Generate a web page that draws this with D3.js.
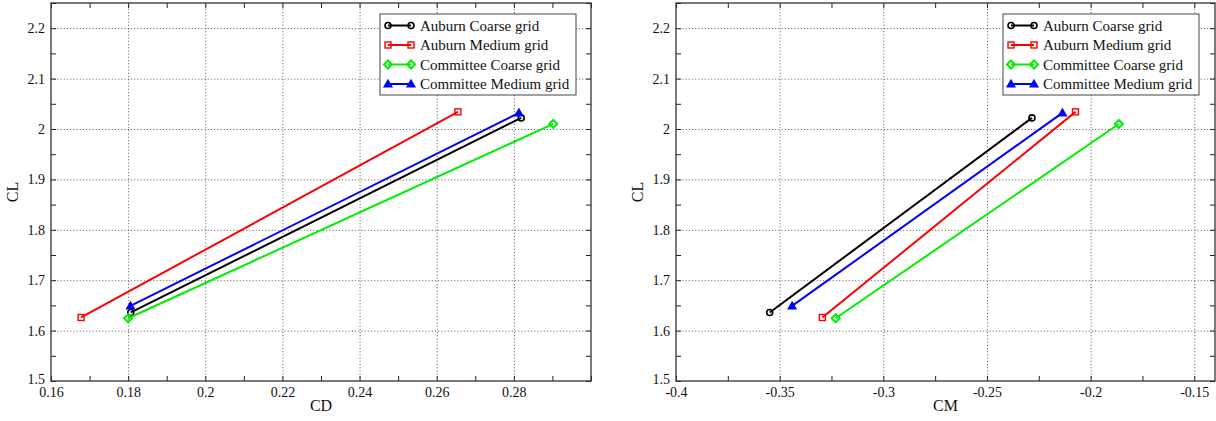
<!DOCTYPE html>
<html>
<head>
<meta charset="utf-8">
<script src="https://cdn.jsdelivr.net/npm/d3@7"></script>
<style>
  body { margin: 0; background: #fff; }
  svg, svg text { font-family: "Liberation Serif", "Times New Roman", Times, "DejaVu Serif", serif !important; }
</style>
</head>
<body>
<svg id="chart" width="1216" height="421"></svg>
<script>
// ---- data ----
const seriesNames = ["Auburn Coarse grid", "Auburn Medium grid", "Committee Coarse grid", "Committee Medium grid"];
const seriesColors = ["#000000", "#ff0000", "#00ee00", "#0000ff"];
const seriesMarkers = ["circle", "square", "diamond", "triangle"];
// CL at the two points (low / high) for each series
const clAuburnCoarse = [1.636, 2.022];
const clAuburnMedium = [1.626, 2.034];
const clCommitteeCoarse = [1.6245, 2.010];
const clCommitteeMedium = [1.649, 2.032];
// CD values (left panel)
const cdAuburnCoarse = [0.1807, 0.2819];
const cdAuburnMedium = [0.1678, 0.2655];
const cdCommitteeCoarse = [0.1800, 0.2902];
const cdCommitteeMedium = [0.1806, 0.2813];
// CM values (right panel)
const cmAuburnCoarse = [-0.3548, -0.2283];
const cmAuburnMedium = [-0.3294, -0.2073];
const cmCommitteeCoarse = [-0.3230, -0.1864];
const cmCommitteeMedium = [-0.3440, -0.2136];
// ticks
const cdTickLabels = [0.16, 0.18, 0.20, 0.22, 0.24, 0.26, 0.28];
const cdMinorTicks = [0.16, 0.17, 0.18, 0.19, 0.20, 0.21, 0.22, 0.23, 0.24, 0.25, 0.26, 0.27, 0.28, 0.29, 0.30];
const cmTickLabels = [-0.4, -0.35, -0.3, -0.25, -0.2, -0.15];
const cmMinorTicks = [-0.4, -0.375, -0.35, -0.325, -0.3, -0.275, -0.25, -0.225, -0.2, -0.175, -0.15];
const clTickLabels = [1.5, 1.6, 1.7, 1.8, 1.9, 2.0, 2.1, 2.2];
const clMinorTicks = [1.5, 1.55, 1.6, 1.65, 1.7, 1.75, 1.8, 1.85, 1.9, 1.95, 2.0, 2.05, 2.1, 2.15, 2.2, 2.25];
const cdDomain = [0.16, 0.30];
const cmDomain = [-0.4, -0.14];
const clDomain = [1.5, 2.25];

const clSeries = [clAuburnCoarse, clAuburnMedium, clCommitteeCoarse, clCommitteeMedium];
const cdSeries = [cdAuburnCoarse, cdAuburnMedium, cdCommitteeCoarse, cdCommitteeMedium];
const cmSeries = [cmAuburnCoarse, cmAuburnMedium, cmCommitteeCoarse, cmCommitteeMedium];

const FONT = "'Liberation Serif', 'Times New Roman', Times, 'DejaVu Serif', serif";
const svg = d3.select("#chart").attr("font-family", FONT);
const fmt = d => String(+d.toFixed(3));

function drawMarker(g, type, x, y, color) {
  if (type === "circle") {
    g.append("circle").attr("cx", x).attr("cy", y).attr("r", 3)
      .attr("fill", "none").attr("stroke", color).attr("stroke-width", 1.6);
  } else if (type === "square") {
    g.append("rect").attr("x", x - 3).attr("y", y - 3).attr("width", 6).attr("height", 6)
      .attr("fill", "none").attr("stroke", color).attr("stroke-width", 1.4);
  } else if (type === "diamond") {
    g.append("path").attr("d", `M${x},${y-4}L${x+4},${y}L${x},${y+4}L${x-4},${y}Z`)
      .attr("fill", "none").attr("stroke", color).attr("stroke-width", 2);
  } else {
    g.append("path").attr("d", `M${x},${y-4}L${x+4},${y+3}L${x-4},${y+3}Z`)
      .attr("fill", color).attr("stroke", color).attr("stroke-width", 1.2);
  }
}

function panel(opts) {
  const { left, right, top, bottom, xDomain, xLabels, xMinor, xSeries, xTitle, legendX } = opts;
  const W = right - left, H = bottom - top;
  const g = svg.append("g").attr("transform", `translate(${left},${top})`);
  const x = d3.scaleLinear().domain(xDomain).range([0, W]);
  const y = d3.scaleLinear().domain(clDomain).range([H, 0]);

  // grid
  const gridX = g.append("g").attr("transform", `translate(0,${H})`)
    .call(d3.axisBottom(x).tickValues(xLabels.slice(1)).tickSize(-H).tickFormat(""));
  const gridY = g.append("g")
    .call(d3.axisLeft(y).tickValues(clTickLabels.slice(1)).tickSize(-W).tickFormat(""));
  [gridX, gridY].forEach(a => {
    a.select(".domain").remove();
    a.selectAll("line").attr("stroke", "#555").attr("stroke-width", 1).attr("stroke-dasharray", "1,2.2");
  });

  // minor ticks (inward) on all four sides
  const tk = 5;
  const axes = [
    g.append("g").attr("transform", `translate(0,${H})`).call(d3.axisBottom(x).tickValues(xMinor).tickSize(-tk).tickFormat("")),
    g.append("g").call(d3.axisTop(x).tickValues(xMinor).tickSize(-tk).tickFormat("")),
    g.append("g").call(d3.axisLeft(y).tickValues(clMinorTicks).tickSize(-tk).tickFormat("")),
    g.append("g").attr("transform", `translate(${W},0)`).call(d3.axisRight(y).tickValues(clMinorTicks).tickSize(-tk).tickFormat(""))
  ];
  axes.forEach(a => {
    a.select(".domain").remove();
    a.selectAll("line").attr("stroke", "#222").attr("stroke-width", 1);
  });

  // tick labels
  const xl = g.append("g").attr("transform", `translate(0,${H})`)
    .call(d3.axisBottom(x).tickValues(xLabels).tickSize(0).tickPadding(6).tickFormat(fmt));
  const yl = g.append("g")
    .call(d3.axisLeft(y).tickValues(clTickLabels).tickSize(0).tickPadding(6).tickFormat(fmt));
  [xl, yl].forEach(a => {
    a.attr("font-family", FONT).attr("font-size", 14);
    a.select(".domain").remove();
    a.selectAll("text").attr("fill", "#111");
  });
  // lift the bottom-most y label slightly, as in the reference
  yl.selectAll("text").filter(d => d === clDomain[0]).attr("dy", "0.15em");

  // frame
  g.append("rect").attr("x", 0).attr("y", 0).attr("width", W).attr("height", H)
    .attr("fill", "none").attr("stroke", "#333").attr("stroke-width", 1.3);

  // series
  const line = d3.line().x(d => x(d[0])).y(d => y(d[1]));
  xSeries.forEach((xs, i) => {
    const pts = xs.map((v, j) => [v, clSeries[i][j]]);
    g.append("path").attr("d", line(pts)).attr("fill", "none")
      .attr("stroke", seriesColors[i]).attr("stroke-width", 2);
    pts.forEach(p => drawMarker(g, seriesMarkers[i], x(p[0]), y(p[1]), seriesColors[i]));
  });

  // axis titles
  svg.append("text").attr("x", left + W / 2).attr("y", 411).attr("text-anchor", "middle")
    .attr("font-size", 16).attr("fill", "#111").text(xTitle);
  svg.append("text").attr("transform", `translate(${left - 33},${top + H / 2}) rotate(-90)`)
    .attr("text-anchor", "middle").attr("font-size", 16).attr("fill", "#111").text("CL");

  // legend
  const lg = svg.append("g").attr("transform", `translate(${legendX},14)`);
  lg.append("rect").attr("x", 0).attr("y", 0).attr("width", 196).attr("height", 81)
    .attr("fill", "#fff").attr("stroke", "#444").attr("stroke-width", 1);
  seriesNames.forEach((name, i) => {
    const yy = 11.5 + i * 19.5;
    lg.append("line").attr("x1", 8).attr("x2", 31).attr("y1", yy).attr("y2", yy)
      .attr("stroke", seriesColors[i]).attr("stroke-width", 2);
    drawMarker(lg, seriesMarkers[i], 8, yy, seriesColors[i]);
    drawMarker(lg, seriesMarkers[i], 31, yy, seriesColors[i]);
    lg.append("text").attr("x", 40).attr("y", yy + 5).attr("font-size", 15).attr("fill", "#111").text(name);
  });
}

panel({ left: 51, right: 591, top: 3, bottom: 381, xDomain: cdDomain, xLabels: cdTickLabels,
        xMinor: cdMinorTicks, xSeries: cdSeries, xTitle: "CD", legendX: 380 });
panel({ left: 676, right: 1215, top: 3, bottom: 381, xDomain: cmDomain, xLabels: cmTickLabels,
        xMinor: cmMinorTicks, xSeries: cmSeries, xTitle: "CM", legendX: 1003 });
</script>
</body>
</html>
